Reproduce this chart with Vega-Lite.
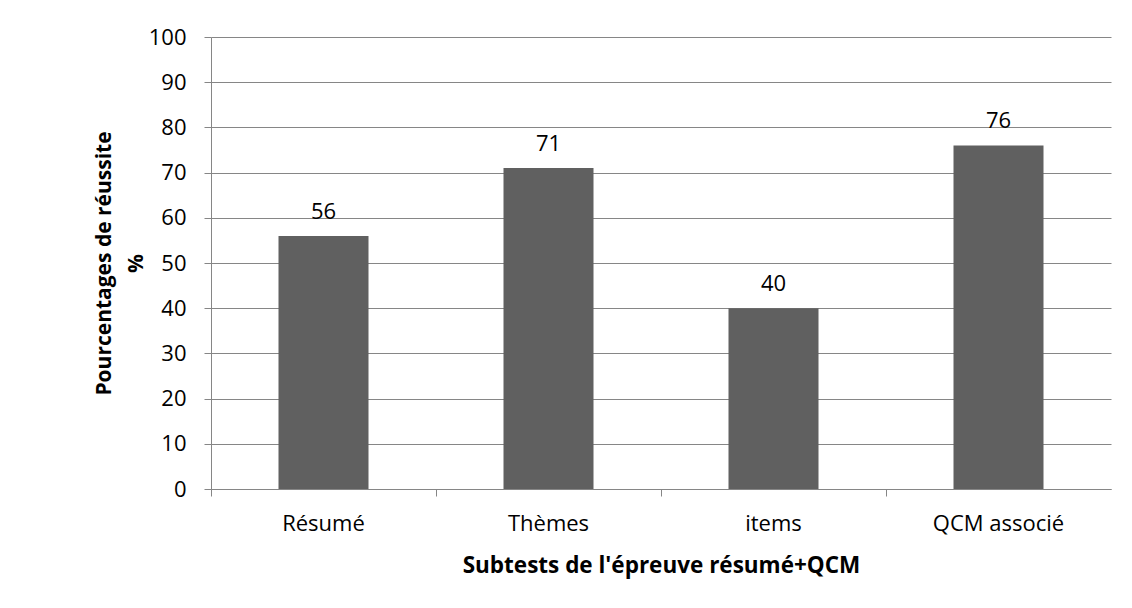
{
  "$schema": "https://vega.github.io/schema/vega-lite/v6.json",
  "autosize": "none",
  "width": 900,
  "height": 452,
  "padding": {"left": 211, "top": 37, "right": 21, "bottom": 119},
  "background": "white",
  "config": {
    "view": {"stroke": null},
    "font": "Open Sans",
    "axis": {
      "domainColor": "#868686",
      "tickColor": "#868686",
      "gridColor": "#868686",
      "labelColor": "#000000",
      "titleColor": "#000000",
      "labelFont": "Open Sans",
      "titleFont": "Open Sans",
      "labelFontSize": 22,
      "titleFontSize": 21,
      "titleFontWeight": "bold",
      "tickSize": 7,
      "domainWidth": 1,
      "tickWidth": 1,
      "gridWidth": 1
    }
  },
  "data": {
    "values": [
      {"subtest": "Résumé", "pct": 56},
      {"subtest": "Thèmes", "pct": 71},
      {"subtest": "items", "pct": 40},
      {"subtest": "QCM associé", "pct": 76}
    ]
  },
  "encoding": {
    "x": {
      "field": "subtest",
      "type": "nominal",
      "sort": null,
      "scale": {"paddingInner": 0, "paddingOuter": 0},
      "axis": {
        "title": "Subtests de l'épreuve résumé+QCM",
        "labelAngle": 0,
        "bandPosition": 0,
        "labelPadding": 17,
        "titlePadding": 20,
        "titleFontSize": 22.5,
        "grid": false
      }
    }
  },
  "layer": [
    {
      "mark": {"type": "bar", "color": "#606060", "width": {"band": 0.4}},
      "encoding": {
        "y": {
          "field": "pct",
          "type": "quantitative",
          "scale": {"domain": [0, 100], "nice": false},
          "axis": {
            "title": ["Pourcentages de réussite", "%"],
            "values": [0, 10, 20, 30, 40, 50, 60, 70, 80, 90, 100],
            "labelPadding": 18,
            "titlePadding": 2,
            "grid": true,
            "titleLineHeight": 32
          }
        }
      }
    },
    {
      "mark": {"type": "text", "baseline": "bottom", "dy": -12, "fontSize": 22, "font": "Open Sans", "color": "#000000"},
      "encoding": {
        "y": {"field": "pct", "type": "quantitative"},
        "text": {"field": "pct", "type": "quantitative"}
      }
    }
  ]
}
